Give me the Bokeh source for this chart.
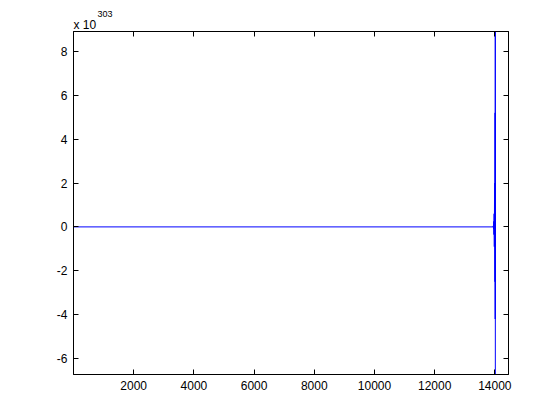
from bokeh.plotting import figure
from bokeh.models import Range1d, FixedTicker, LinearAxis, Title
from bokeh.embed import file_html
from bokeh.resources import INLINE

# Data (signal values in units of 1e303)
sample_index = [1, 13940, 13950, 13958, 13964, 13970, 13976, 13982, 13988,
                13994, 14000, 14004, 14008, 14012, 14015, 14016]
signal_e303 = [0.0, 0.0, 0.05, -0.1, 0.25, -0.35, 0.6, -0.9, 1.2,
               -0.8, 2.0, -2.5, 5.2, -4.2, 60.0, -60.0]
x_ticks = [2000, 4000, 6000, 8000, 10000, 12000, 14000]
y_ticks = [-6, -4, -2, 0, 2, 4, 6, 8]
exponent_label = "303"

FONT = "Liberation Sans"

p = figure(width=556, height=416, output_backend="svg", toolbar_location=None,
           x_range=Range1d(0, 14453), y_range=Range1d(-6.73, 8.91),
           min_border_left=73, min_border_top=31, min_border_right=48,
           min_border_bottom=42)
p.grid.visible = False
p.background_fill_color = "white"
p.border_fill_color = "white"
p.outline_line_color = "black"
p.outline_line_width = 1

p.line(sample_index, signal_e303, line_color="#0000ff", line_width=1)

def style(ax):
    ax.axis_line_color = "black"
    ax.major_tick_line_color = "black"
    ax.major_tick_in = 5
    ax.major_tick_out = 0
    ax.minor_tick_line_color = None
    ax.major_label_text_font = FONT
    ax.major_label_text_font_size = "12px"
    ax.major_label_text_color = "black"
    ax.major_label_standoff = 6

for ax in p.xaxis:
    ax.ticker = FixedTicker(ticks=x_ticks)
    ax.major_label_overrides = {t: str(t) for t in x_ticks}
    style(ax)
for ax in p.yaxis:
    ax.ticker = FixedTicker(ticks=y_ticks)
    ax.major_label_overrides = {t: str(t) for t in y_ticks}
    style(ax)

# mirrored tick marks on the top and right edges (no labels)
top = LinearAxis(ticker=FixedTicker(ticks=x_ticks))
style(top)
top.major_label_text_font_size = "0px"
top.major_label_text_color = None
top.major_label_standoff = 0
p.add_layout(top, "above")
right = LinearAxis(ticker=FixedTicker(ticks=y_ticks))
style(right)
right.major_label_text_font_size = "0px"
right.major_label_text_color = None
right.major_label_standoff = 0
p.add_layout(right, "right")

# exponent label "x 10^303" above the y axis
t_base = Title(text="x 10", align="left", offset=0, standoff=0,
               text_font=FONT, text_font_size="12px", text_font_style="normal",
               text_color="black")
t_exp = Title(text=exponent_label, align="left", offset=24, standoff=-3,
              text_font=FONT, text_font_size="9px", text_font_style="normal",
              text_color="black")
p.add_layout(t_base, "above")
p.add_layout(t_exp, "above")

open("out.html", "w").write(file_html(p, INLINE))
